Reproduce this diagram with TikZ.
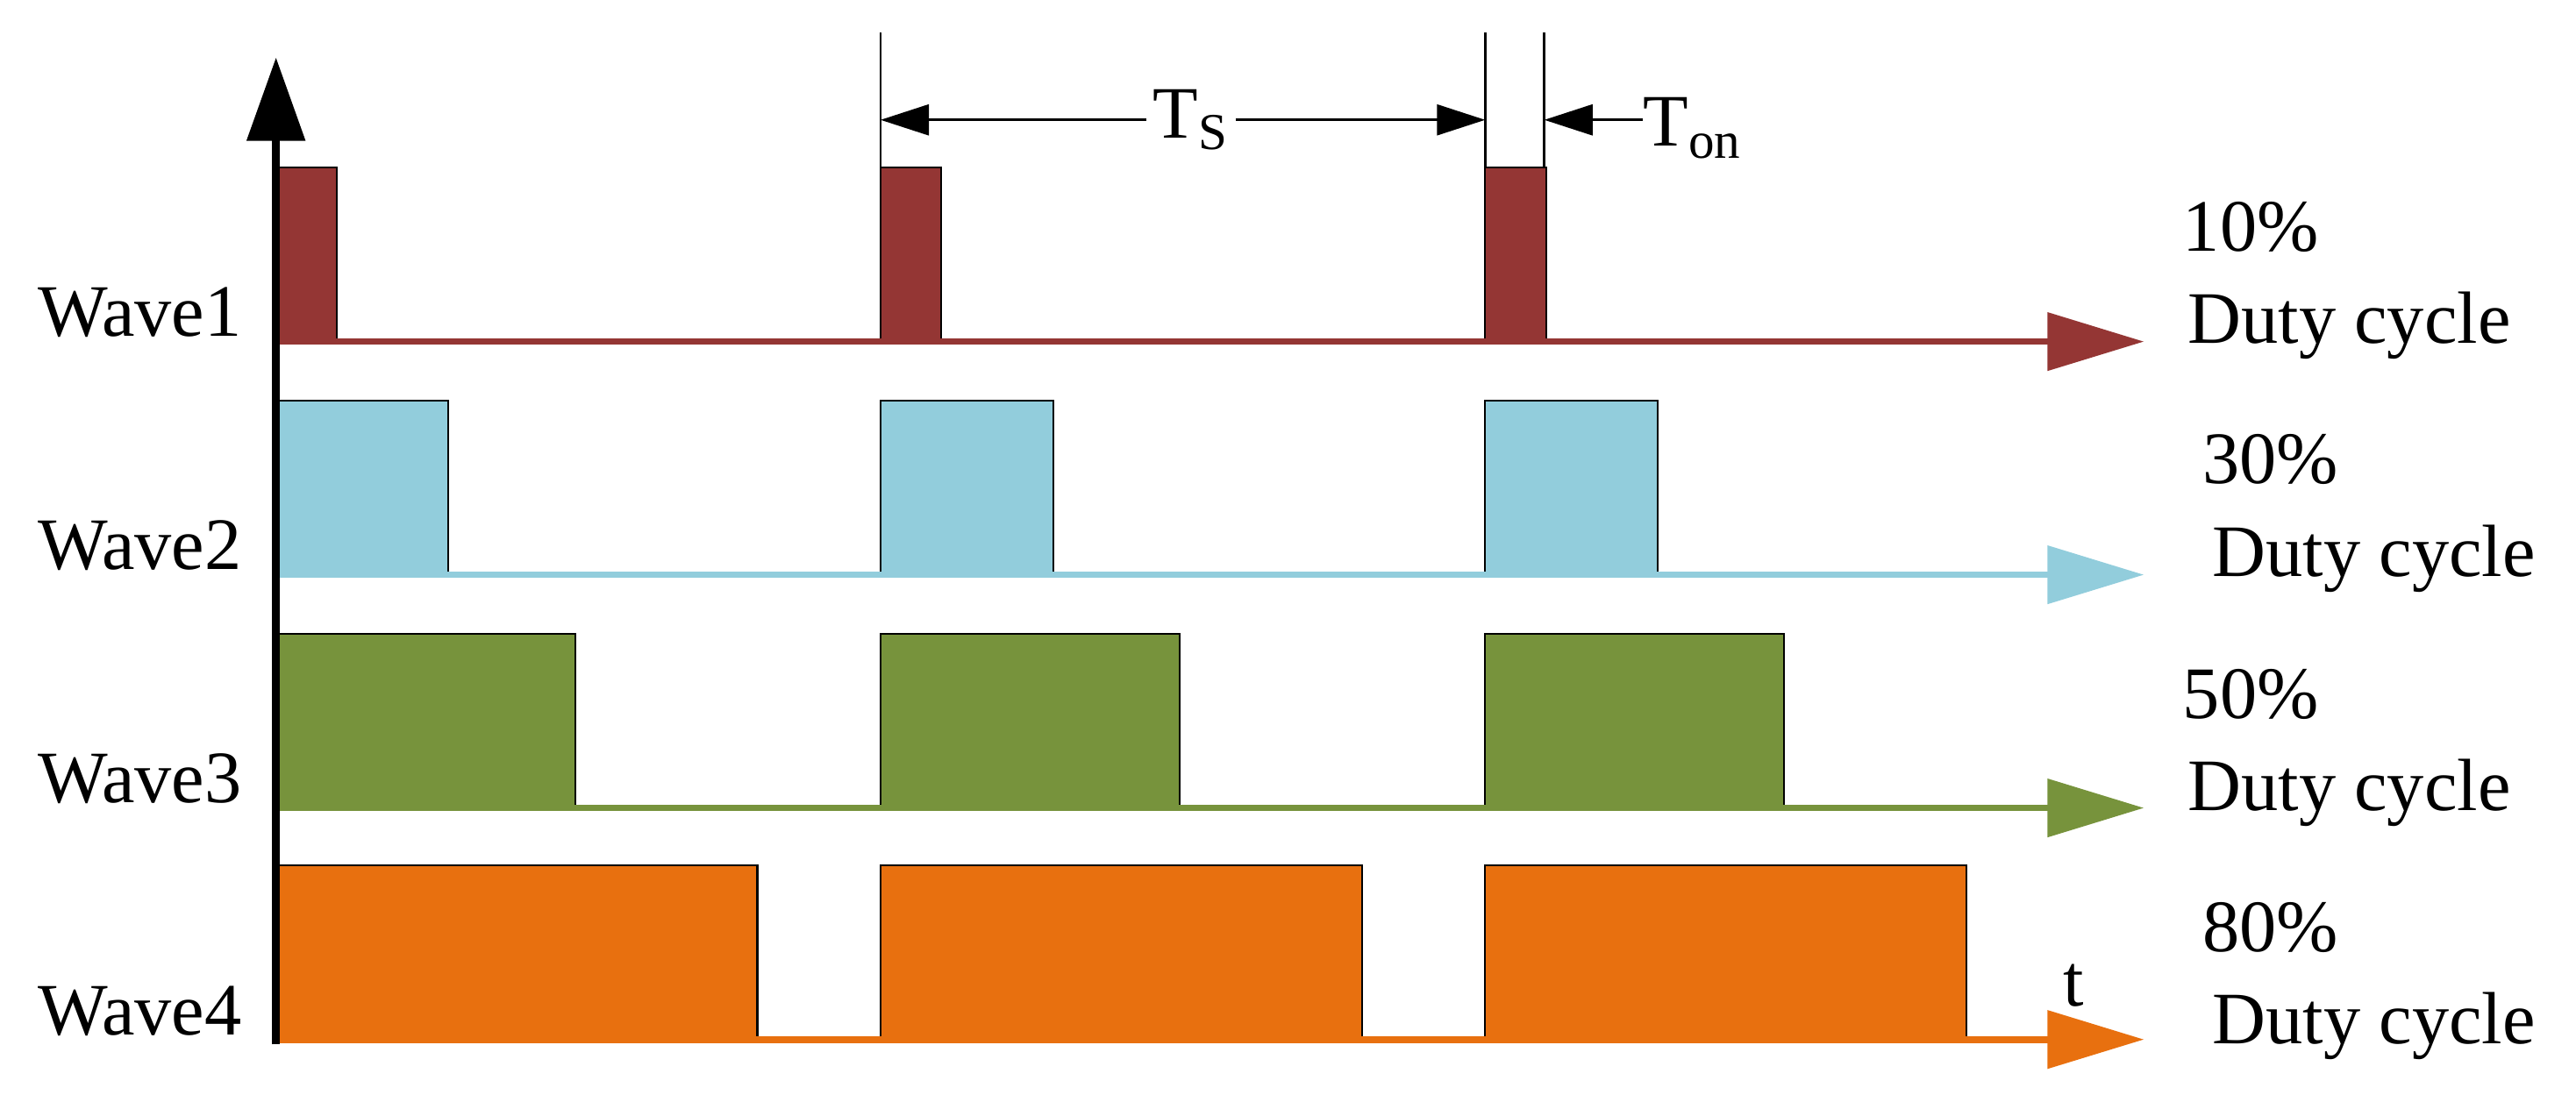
\documentclass[tikz,border=0pt]{standalone}
\usepackage{fontspec}
\setmainfont{Liberation Serif}
\usetikzlibrary{arrows.meta}
\definecolor{c1}{HTML}{943634}
\definecolor{c2}{HTML}{92CDDC}
\definecolor{c3}{HTML}{77933C}
\definecolor{c4}{HTML}{E8700F}
\begin{document}
\begin{tikzpicture}[x=0.01873cm,y=-0.01873cm,
  lbl/.style={font=\fontsize{24}{28}\selectfont,inner sep=0},
  pulse/.style={draw=black,line width=0.6pt},
  base/.style={line width=2.2pt,-{Triangle[length=1.1cm,width=0.65cm]}},
  dim/.style={line width=0.8pt,{Triangle[length=0.55cm,width=0.35cm]}-{Triangle[length=0.55cm,width=0.35cm]}}]
\useasboundingbox (0,0) rectangle (1568,671);
% waves
\foreach \c/\yb/\w [count=\i] in {c1/208/37,c2/350/105,c3/492/182,c4/633/293}{
  \pgfmathsetmacro{\yt}{\yb-106}
  \foreach \x in {168,536,904}{
    \fill[\c,pulse] (\x,\yb) rectangle (\x+\w,\yt);
  }
  \coordinate (b\i s) at (168,\yb);
  \coordinate (b\i e) at (1305,\yb);
  \draw[base,\c] (b\i s) -- (b\i e);
}
% axis
\coordinate (o) at (168,636);
\coordinate (top) at (168,35);
\draw[line width=2.5pt,-{Triangle[length=0.95cm,width=0.65cm]}] (o) -- (top);
% labels
\node[lbl] (w1) at (85,190) {Wave1};
\node[lbl] (w2) at (85,332) {Wave2};
\node[lbl] (w3) at (85,474) {Wave3};
\node[lbl] (w4) at (85,616) {Wave4};
\node[lbl] (p1) at (1370,138) {10\%};
\node[lbl] (d1) at (1430,198) {Duty cycle};
\node[lbl] (p2) at (1382,280) {30\%};
\node[lbl] (d2) at (1445,340) {Duty cycle};
\node[lbl] (p3) at (1370,423) {50\%};
\node[lbl] (d3) at (1430,483) {Duty cycle};
\node[lbl] (p4) at (1382,565) {80\%};
\node[lbl] (d4) at (1445,625) {Duty cycle};
\node[lbl] (t) at (1262,600) {t};
% dimension
\coordinate (v1t) at (536,20); \coordinate (v1b) at (536,145);
\coordinate (v2t) at (904,20); \coordinate (v2b) at (904,102);
\coordinate (v3t) at (940,20); \coordinate (v3b) at (940,102);
\draw[line width=0.8pt] (v1t) -- (v1b) (v2t) -- (v2b) (v3t) -- (v3b);
\coordinate (a1) at (536,73); \coordinate (a2) at (904,73);
\coordinate (a3) at (940,73); \coordinate (a4) at (1000,73);
\node[lbl,fill=white,inner xsep=2pt] (ts) at (725,73) {T\textsubscript{S}};
\draw[line width=0.8pt,{Triangle[length=0.55cm,width=0.35cm]}-] (a1) -- (ts);
\draw[line width=0.8pt,-{Triangle[length=0.55cm,width=0.35cm]}] (ts) -- (a2);
\draw[line width=0.8pt,-{Triangle[length=0.55cm,width=0.35cm]}] (a4) -- (a3);
\node[lbl,anchor=west] (ton) at (1000,78) {T\textsubscript{on}};
\end{tikzpicture}
\end{document}
